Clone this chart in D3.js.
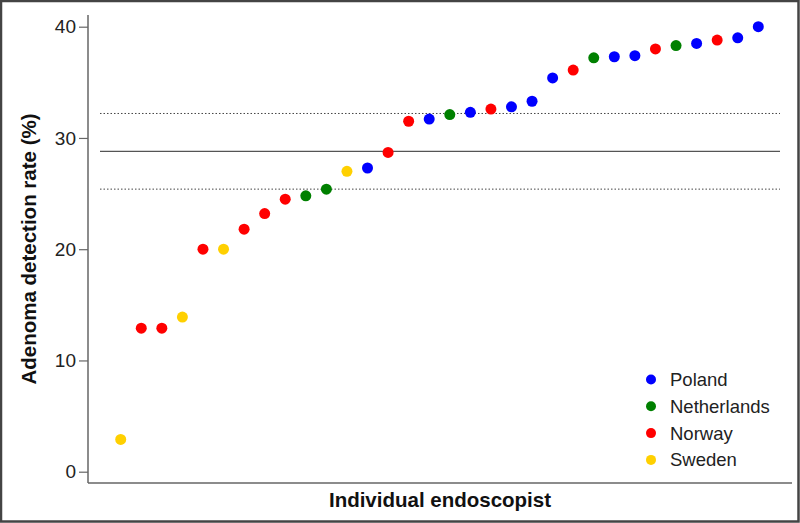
<!doctype html>
<html>
<head>
<meta charset="utf-8">
<script src="https://d3js.org/d3.v7.min.js"></script>
<style>
  body { margin: 0; background: #fff; }
  svg { display: block; font-family: "Liberation Sans", Arial, sans-serif; }
</style>
</head>
<body>
<div id="chart"></div>
<script>
// endoscopists sorted by detection rate
var rates = [2.9, 12.9, 12.9, 13.9, 20.0, 20.0, 21.8, 23.2, 24.5, 24.8, 25.4, 27.0,
             27.3, 28.7, 31.5, 31.7, 32.1, 32.3, 32.6, 32.8, 33.3, 35.4, 36.1, 37.2,
             37.3, 37.4, 38.0, 38.3, 38.5, 38.8, 39.0, 40.0];
var countries = ["Sweden", "Norway", "Norway", "Sweden", "Norway", "Sweden", "Norway", "Norway",
                 "Norway", "Netherlands", "Netherlands", "Sweden", "Poland", "Norway", "Norway", "Poland",
                 "Netherlands", "Poland", "Norway", "Poland", "Poland", "Poland", "Norway", "Netherlands",
                 "Poland", "Poland", "Norway", "Netherlands", "Poland", "Norway", "Poland", "Poland"];
var legendNames = ["Poland", "Netherlands", "Norway", "Sweden"];
var legendColors = ["#0000ff", "#008000", "#ff0000", "#ffd000"];
var yTicks = [0, 10, 20, 30, 40];
var meanRate = 28.8;
var ciRates = [25.4, 32.2];

var W = 800, H = 523;
var mLeft = 88, mRight = 792, mTop = 15, mBottom = 483;

var svg = d3.select("#chart").append("svg")
  .attr("width", W).attr("height", H);

// outer frame
svg.append("rect")
  .attr("x", 1).attr("y", 1).attr("width", W - 2.5).attr("height", H - 2.5)
  .attr("fill", "#fff").attr("stroke", "#444").attr("stroke-width", 2.5);

var x = d3.scaleLinear().domain([0, rates.length - 1]).range([120.7, 758.3]);
var y = d3.scaleLinear().domain([0, 40]).range([471.7, 26.7]);
var color = d3.scaleOrdinal().domain(legendNames).range(legendColors);

// axes (L shape)
svg.append("line").attr("x1", mLeft).attr("x2", mLeft).attr("y1", mTop).attr("y2", mBottom)
  .attr("stroke", "#666").attr("stroke-width", 1.5);
svg.append("line").attr("x1", mLeft).attr("x2", mRight).attr("y1", mBottom).attr("y2", mBottom)
  .attr("stroke", "#666").attr("stroke-width", 1.5);

var yAxis = svg.append("g")
  .attr("transform", "translate(" + mLeft + ",0)")
  .call(d3.axisLeft(y).tickValues(yTicks).tickSize(9).tickPadding(3));
yAxis.select(".domain").remove();
yAxis.selectAll(".tick line").attr("stroke", "#666").attr("stroke-width", 1.2);
yAxis.selectAll(".tick text")
  .attr("fill", "#222").style("font-size", "19px")
  .style("font-family", "'Liberation Sans', Arial, sans-serif");

// reference lines
svg.append("line")
  .attr("x1", 100).attr("x2", 780).attr("y1", y(meanRate)).attr("y2", y(meanRate))
  .attr("stroke", "#555").attr("stroke-width", 1.2);
svg.selectAll(".ci").data(ciRates).enter().append("line")
  .attr("class", "ci")
  .attr("x1", 100).attr("x2", 780)
  .attr("y1", function(d) { return y(d); }).attr("y2", function(d) { return y(d); })
  .attr("stroke", "#444").attr("stroke-width", 1)
  .attr("stroke-dasharray", "1.5,2");

// points
svg.selectAll(".dot").data(rates).enter().append("circle")
  .attr("class", "dot")
  .attr("cx", function(d, i) { return x(i); })
  .attr("cy", function(d) { return y(d); })
  .attr("r", 5.5)
  .attr("fill", function(d, i) { return color(countries[i]); });

// axis titles
svg.append("text")
  .attr("transform", "translate(36," + ((mTop + mBottom) / 2) + ") rotate(-90)")
  .attr("text-anchor", "middle")
  .style("font-size", "20.5px").style("font-weight", "bold").attr("fill", "#111")
  .text("Adenoma detection rate (%)");
svg.append("text")
  .attr("x", (mLeft + mRight) / 2).attr("y", 507)
  .attr("text-anchor", "middle")
  .style("font-size", "20.5px").style("font-weight", "bold").attr("fill", "#111")
  .text("Individual endoscopist");

// legend
var legend = svg.selectAll(".legend").data(legendNames).enter().append("g")
  .attr("class", "legend")
  .attr("transform", function(d, i) { return "translate(651," + (379.5 + i * 26.8) + ")"; });
legend.append("circle").attr("r", 5).attr("fill", function(d) { return color(d); });
legend.append("text")
  .attr("x", 19).attr("dy", "0.35em")
  .style("font-size", "18.5px").attr("fill", "#222")
  .text(function(d) { return d; });
</script>
</body>
</html>
